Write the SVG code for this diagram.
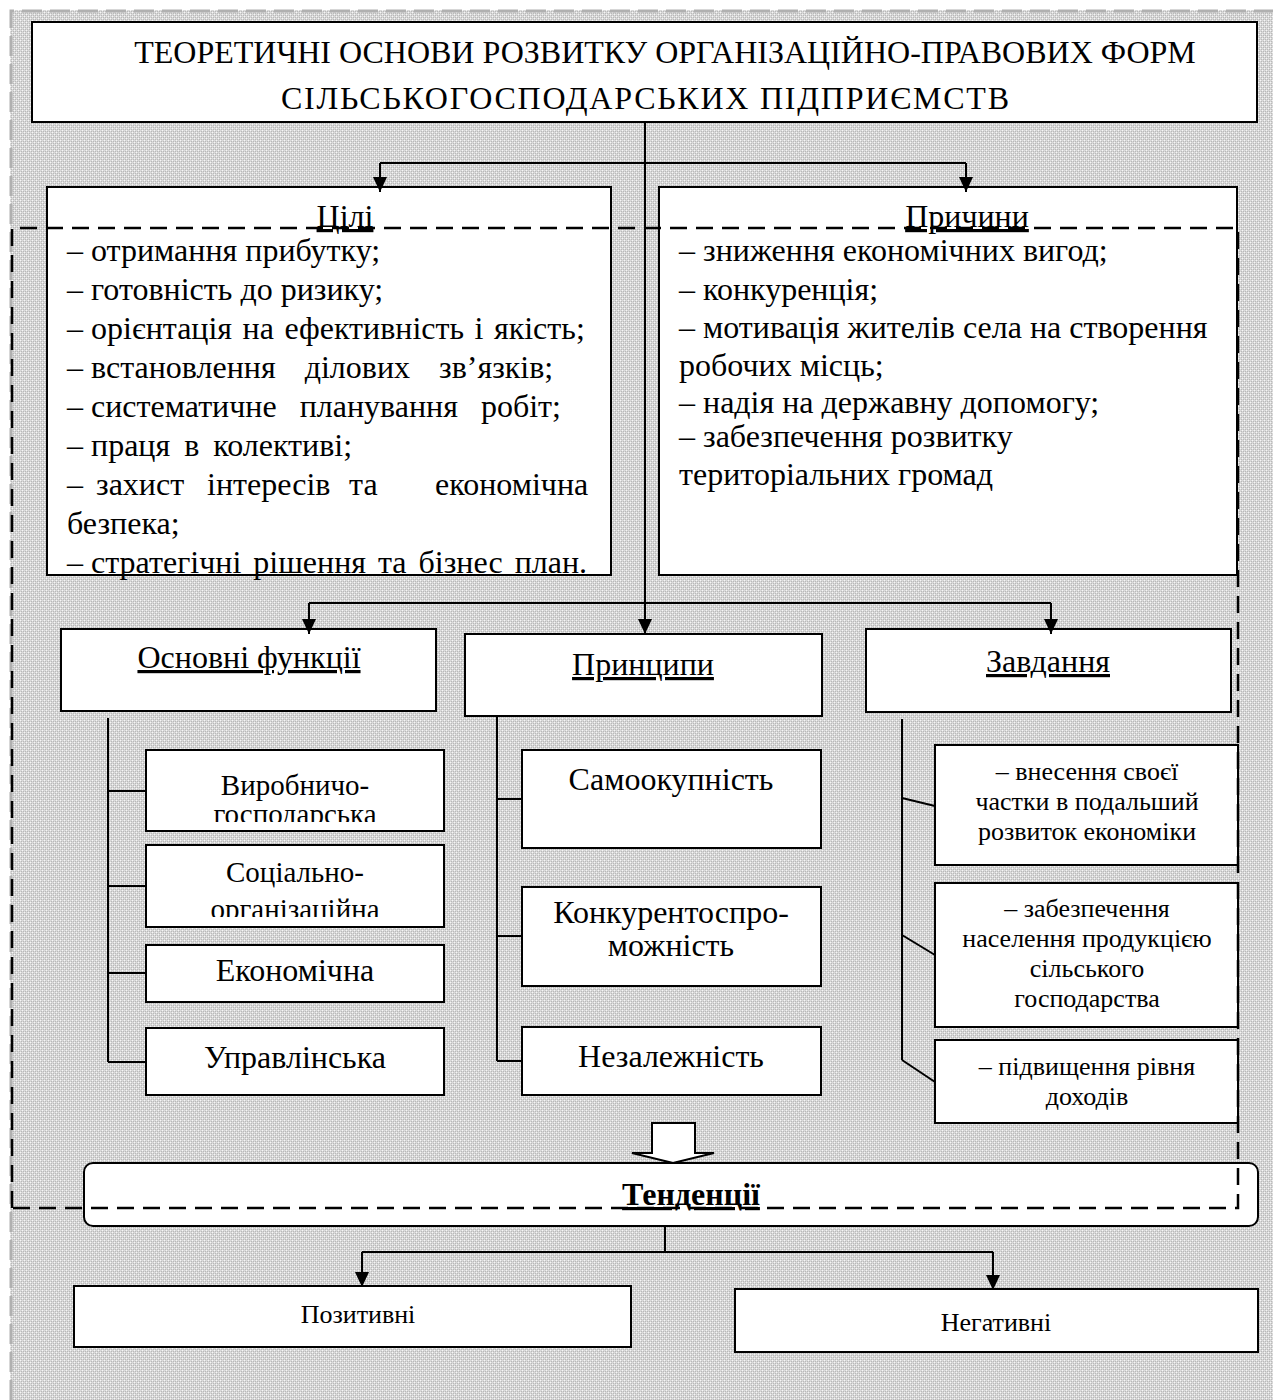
<svg xmlns="http://www.w3.org/2000/svg" width="1273" height="1400" viewBox="0 0 1273 1400">
<defs>
<pattern id="chk" width="4" height="4" patternUnits="userSpaceOnUse">
<rect width="4" height="4" fill="#d8d8d8"/>
<rect x="0" y="0" width="1" height="1" fill="#f6f6f6"/>
<rect x="2" y="2" width="1" height="1" fill="#f6f6f6"/>
<rect x="1" y="1" width="1" height="1" fill="#b9b9b9"/>
<rect x="3" y="3" width="1" height="1" fill="#b9b9b9"/>
<rect x="3" y="1" width="1" height="1" fill="#b9b9b9"/>
<rect x="1" y="3" width="1" height="1" fill="#b9b9b9"/>
</pattern>
<marker id="ah" viewBox="0 0 15 14" refX="15" refY="7" markerWidth="15" markerHeight="14" markerUnits="userSpaceOnUse" orient="auto">
<path d="M0,0 L15,7 L0,14 Z" fill="#000"/>
</marker>
<clipPath id="c1"><rect x="146" y="750" width="298" height="72"/></clipPath>
<clipPath id="c2"><rect x="146" y="845" width="298" height="72"/></clipPath>
</defs>
<style>
text{font-family:"Liberation Serif","Times New Roman",serif;fill:#000}
.box{fill:#fff;stroke:#000;stroke-width:2}
.ln{fill:none;stroke:#000;stroke-width:2}
.t32{font-size:32px}
.t29{font-size:29px}
.t26{font-size:26px}
.c{text-anchor:middle}
.u{text-decoration:underline}
</style>
<rect x="10" y="10" width="1263" height="1390" fill="url(#chk)"/>
<path d="M11,1400 L11,11 L1273,11" fill="none" stroke="#b0b0b0" stroke-width="3" stroke-dasharray="20 8"/>

<g id="title">
<rect class="box" x="32" y="22" width="1225" height="100"/>
<text class="t32 c" x="665" y="63">ТЕОРЕТИЧНІ ОСНОВИ РОЗВИТКУ ОРГАНІЗАЦІЙНО-ПРАВОВИХ ФОРМ</text>
<text class="t32 c" x="645" y="109" textLength="728" lengthAdjust="spacing">СІЛЬСЬКОГОСПОДАРСЬКИХ ПІДПРИЄМСТВ</text>
</g>

<g id="goals">
<rect class="box" x="47" y="187" width="564" height="388"/>
<text class="t32 c u" x="345" y="227">Цілі</text>
<text class="t32" x="67" y="261">– отримання прибутку;</text>
<text class="t32" x="67" y="300">– готовність до ризику;</text>
<text class="t32" x="67" y="339">– орієнтація<tspan style="word-spacing:2.5px"> на ефективність і якість;</tspan></text>
<text class="t32" x="67" y="378">– встановлення<tspan style="word-spacing:21px"> ділових зв’язків;</tspan></text>
<text class="t32" x="67" y="417">– систематичне<tspan style="word-spacing:15px"> планування робіт;</tspan></text>
<text class="t32" x="67" y="456">– праця<tspan style="word-spacing:6px"> в колективі;</tspan></text>
<text class="t32" y="495"><tspan x="67">–</tspan><tspan x="96">захист</tspan><tspan x="207">інтересів</tspan><tspan x="349">та</tspan><tspan x="435">економічна</tspan></text>
<text class="t32" x="67" y="534">безпека;</text>
<text class="t32" x="67" y="573">– стратегічні<tspan style="word-spacing:4px"> рішення та бізнес план.</tspan></text>
</g>

<g id="reasons">
<rect class="box" x="659" y="187" width="578" height="388"/>
<text class="t32 c u" x="967" y="227">Причини</text>
<text class="t32" x="679" y="261">– зниження економічних вигод;</text>
<text class="t32" x="679" y="300">– конкуренція;</text>
<text class="t32" x="679" y="338">– мотивація жителів села на створення</text>
<text class="t32" x="679" y="376">робочих місць;</text>
<text class="t32" x="679" y="413">– надія на державну допомогу;</text>
<text class="t32" x="679" y="447">– забезпечення розвитку</text>
<text class="t32" x="679" y="485">територіальних громад</text>
</g>

<g id="functions">
<rect class="box" x="61" y="629" width="375" height="82"/>
<text class="t32 c u" x="249" y="668">Основні функції</text>
</g>
<g id="f1">
<rect class="box" x="146" y="750" width="298" height="81"/>
<text class="t29 c" x="295" y="795">Виробничо-</text>
<text class="t29 c" x="295" y="824" clip-path="url(#c1)">господарська</text>
</g>
<g id="f2">
<rect class="box" x="146" y="845" width="298" height="82"/>
<text class="t29 c" x="295" y="882">Соціально-</text>
<text class="t29 c" x="295" y="919" clip-path="url(#c2)">організаційна</text>
</g>
<g id="f3">
<rect class="box" x="146" y="945" width="298" height="57"/>
<text class="t32 c" x="295" y="981">Економічна</text>
</g>
<g id="f4">
<rect class="box" x="146" y="1028" width="298" height="67"/>
<text class="t32 c" x="295" y="1068">Управлінська</text>
</g>

<g id="principles">
<rect class="box" x="465" y="634" width="357" height="82"/>
<text class="t32 c u" x="643" y="675">Принципи</text>
</g>
<g id="p1">
<rect class="box" x="522" y="750" width="299" height="98"/>
<text class="t32 c" x="671" y="790">Самоокупність</text>
</g>
<g id="p2">
<rect class="box" x="522" y="887" width="299" height="99"/>
<text class="t32 c" x="671" y="923">Конкурентоспро-</text>
<text class="t32 c" x="671" y="956">можність</text>
</g>
<g id="p3">
<rect class="box" x="522" y="1027" width="299" height="68"/>
<text class="t32 c" x="671" y="1067">Незалежність</text>
</g>

<g id="tasks">
<rect class="box" x="866" y="629" width="365" height="83"/>
<text class="t32 c u" x="1048" y="672">Завдання</text>
</g>
<g id="z1">
<rect class="box" x="935" y="745" width="303" height="120"/>
<text class="t26 c" x="1087" y="780">– внесення своєї</text>
<text class="t26 c" x="1087" y="810">частки в подальший</text>
<text class="t26 c" x="1087" y="840">розвиток економіки</text>
</g>
<g id="z2">
<rect class="box" x="935" y="883" width="303" height="144"/>
<text class="t26 c" x="1087" y="917">– забезпечення</text>
<text class="t26 c" x="1087" y="947">населення продукцією</text>
<text class="t26 c" x="1087" y="977">сільського</text>
<text class="t26 c" x="1087" y="1007">господарства</text>
</g>
<g id="z3">
<rect class="box" x="935" y="1040" width="303" height="83"/>
<text class="t26 c" x="1087" y="1075">– підвищення рівня</text>
<text class="t26 c" x="1087" y="1105">доходів</text>
</g>

<g id="trends">
<rect class="box" x="84" y="1163" width="1174" height="63" rx="9"/>
<text class="t32 c u" x="691" y="1205" style="font-weight:bold">Тенденції</text>
</g>
<g id="positive">
<rect class="box" x="74" y="1286" width="557" height="61"/>
<text class="t26 c" x="358" y="1323">Позитивні</text>
</g>
<g id="negative">
<rect class="box" x="735" y="1289" width="523" height="63"/>
<text class="t26 c" x="996" y="1331">Негативні</text>
</g>

<g id="connectors">
<path class="ln" d="M645,122 L645,620"/>
<path class="ln" d="M380,163 L966,163"/>
<path class="ln" d="M380,163 L380,192" marker-end="url(#ah)"/>
<path class="ln" d="M966,163 L966,192" marker-end="url(#ah)"/>
<path class="ln" d="M309,603 L1051,603"/>
<path class="ln" d="M309,603 L309,634" marker-end="url(#ah)"/>
<path class="ln" d="M645,600 L645,634" marker-end="url(#ah)"/>
<path class="ln" d="M1051,603 L1051,634" marker-end="url(#ah)"/>
<path class="ln" d="M108,718 L108,1062 M108,791 L146,791 M108,886 L146,886 M108,973 L146,973 M108,1062 L146,1062"/>
<path class="ln" d="M497,716 L497,1061 M497,799 L522,799 M497,936 L522,936 M497,1061 L522,1061"/>
<path class="ln" d="M902,719 L902,1060 M902,798 L935,806 M902,935 L935,955 M902,1060 L935,1082"/>
<path d="M652,1123 L695,1123 L695,1153 L714,1153 L673,1163 L632,1153 L652,1153 Z" fill="#fff" stroke="#000" stroke-width="2"/>
<path class="ln" d="M665,1226 L665,1252 M362,1252 L993,1252"/>
<path class="ln" d="M362,1252 L362,1287" marker-end="url(#ah)"/>
<path class="ln" d="M993,1252 L993,1290" marker-end="url(#ah)"/>
</g>
<path d="M12,1208 L12,228 L1238,228 L1238,1208 Z" fill="none" stroke="#000" stroke-width="2.5" stroke-dasharray="17 9"/>
</svg>
